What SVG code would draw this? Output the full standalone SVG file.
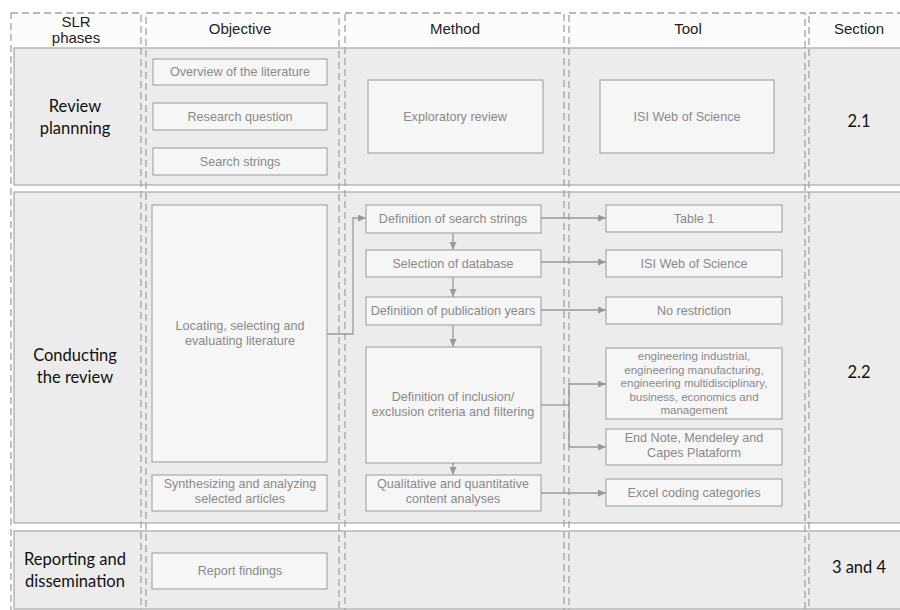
<svg xmlns="http://www.w3.org/2000/svg" width="900" height="610" viewBox="0 0 900 610">
<style>
.band{fill:#ececec;stroke:#a8a8a8;stroke-width:1.2}
.col{fill:none;stroke:#a3a3a3;stroke-width:1.3;stroke-dasharray:7 4}
.box{fill:#f6f6f6;stroke:#a8a8a8;stroke-width:1.2}
.bt{font-family:"Liberation Sans",Arial,sans-serif;font-size:12.6px;fill:#8a8a8a;text-anchor:middle}
.bs{font-family:"Liberation Sans",Arial,sans-serif;font-size:11.5px;fill:#8a8a8a;text-anchor:middle}
.hd{font-family:"Liberation Sans",Arial,sans-serif;font-size:15px;fill:#1e1e1e;text-anchor:middle}
.ph{font-family:Lato,"Open Sans",sans-serif;font-size:16.5px;fill:#111;text-anchor:middle}
.cn{fill:none;stroke:#9a9a9a;stroke-width:1.3}
</style>
<defs>
<marker id="ah" markerUnits="userSpaceOnUse" markerWidth="9" markerHeight="8" refX="8" refY="3.5" orient="auto">
<path d="M0,0 L8,3.5 L0,7 z" fill="#9a9a9a"/>
</marker>
</defs>
<rect x="0" y="0" width="900" height="610" fill="#ffffff"/>
<rect x="11" y="13" width="900" height="35" fill="#fcfcfc"/>
<g id="bands">
<rect class="band" x="14" y="48" width="900" height="137"/>
<rect class="band" x="14" y="192" width="900" height="331"/>
<rect class="band" x="14" y="531" width="900" height="78"/>
</g>
<g id="columns">
<rect class="col" x="11" y="13" width="130" height="610"/>
<rect class="col" x="146" y="13" width="193" height="610"/>
<rect class="col" x="345" y="13" width="219" height="610"/>
<rect class="col" x="569" y="13" width="236" height="610"/>
<rect class="col" x="809" y="13" width="110" height="610"/>
</g>
<g id="headers">
<text class="hd" x="76" y="27">SLR</text>
<text class="hd" x="76" y="43">phases</text>
<text class="hd" x="240" y="34">Objective</text>
<text class="hd" x="455" y="34">Method</text>
<text class="hd" x="688" y="34">Tool</text>
<text class="hd" x="859" y="34">Section</text>
</g>
<g id="phases">
<text class="ph" x="75" y="112">Review</text>
<text class="ph" x="75" y="134">plannning</text>
<text class="ph" x="75" y="361">Conducting</text>
<text class="ph" x="75" y="383">the review</text>
<text class="ph" x="75" y="565">Reporting and</text>
<text class="ph" x="75" y="587">dissemination</text>
<text class="ph" x="859" y="127">2.1</text>
<text class="ph" x="859" y="378">2.2</text>
<text class="ph" x="859" y="573">3 and 4</text>
</g>
<g id="connectors">
<polyline class="cn" points="327,334 353,334 353,218 366,218" marker-end="url(#ah)"/>
<line class="cn" x1="453" y1="233" x2="453" y2="250" marker-end="url(#ah)"/>
<line class="cn" x1="453" y1="277" x2="453" y2="297" marker-end="url(#ah)"/>
<line class="cn" x1="453" y1="325" x2="453" y2="347" marker-end="url(#ah)"/>
<line class="cn" x1="453" y1="463" x2="453" y2="475" marker-end="url(#ah)"/>
<line class="cn" x1="541" y1="218" x2="606" y2="218" marker-end="url(#ah)"/>
<line class="cn" x1="541" y1="262" x2="606" y2="262" marker-end="url(#ah)"/>
<line class="cn" x1="541" y1="310" x2="606" y2="310" marker-end="url(#ah)"/>
<line class="cn" x1="541" y1="405" x2="569" y2="405"/>
<line class="cn" x1="569" y1="384" x2="569" y2="447"/>
<line class="cn" x1="569" y1="384" x2="606" y2="384" marker-end="url(#ah)"/>
<line class="cn" x1="569" y1="447" x2="606" y2="447" marker-end="url(#ah)"/>
<line class="cn" x1="541" y1="493" x2="606" y2="493" marker-end="url(#ah)"/>
</g>
<g id="obj-overview"><rect class="box" x="153" y="59" width="174" height="26"/><text class="bt" x="240" y="76">Overview of the literature</text></g>
<g id="obj-question"><rect class="box" x="153" y="103" width="174" height="27"/><text class="bt" x="240" y="121">Research question</text></g>
<g id="obj-strings"><rect class="box" x="153" y="148" width="174" height="27"/><text class="bt" x="240" y="166">Search strings</text></g>
<g id="obj-locating"><rect class="box" x="152" y="205" width="175" height="257"/><text class="bt" x="240" y="330">Locating, selecting and</text><text class="bt" x="240" y="345">evaluating literature</text></g>
<g id="obj-synth"><rect class="box" x="152" y="475" width="175" height="36"/><text class="bt" x="240" y="488">Synthesizing and analyzing</text><text class="bt" x="240" y="503">selected articles</text></g>
<g id="obj-report"><rect class="box" x="152" y="553" width="175" height="36"/><text class="bt" x="240" y="575">Report findings</text></g>
<g id="met-exploratory"><rect class="box" x="368" y="80" width="175" height="73"/><text class="bt" x="455" y="121">Exploratory review</text></g>
<g id="met-search"><rect class="box" x="366" y="205" width="175" height="28"/><text class="bt" x="453" y="223">Definition of search strings</text></g>
<g id="met-database"><rect class="box" x="366" y="250" width="175" height="27"/><text class="bt" x="453" y="268">Selection of database</text></g>
<g id="met-years"><rect class="box" x="366" y="297" width="175" height="28"/><text class="bt" x="453" y="315">Definition of publication years</text></g>
<g id="met-criteria"><rect class="box" x="366" y="347" width="175" height="116"/><text class="bt" x="453" y="401">Definition of inclusion/</text><text class="bt" x="453" y="416">exclusion criteria and filtering</text></g>
<g id="met-content"><rect class="box" x="366" y="475" width="175" height="36"/><text class="bt" x="453" y="488">Qualitative and quantitative</text><text class="bt" x="453" y="503">content analyses</text></g>
<g id="tool-isi-top"><rect class="box" x="600" y="80" width="174" height="73"/><text class="bt" x="687" y="121">ISI Web of Science</text></g>
<g id="tool-table"><rect class="box" x="606" y="205" width="176" height="27"/><text class="bt" x="694" y="223">Table 1</text></g>
<g id="tool-isi"><rect class="box" x="606" y="250" width="176" height="27"/><text class="bt" x="694" y="268">ISI Web of Science</text></g>
<g id="tool-norestr"><rect class="box" x="606" y="297" width="176" height="27"/><text class="bt" x="694" y="315">No restriction</text></g>
<g id="tool-categories"><rect class="box" x="606" y="348" width="176" height="71"/><text class="bs" x="694" y="360">engineering industrial,</text><text class="bs" x="694" y="373.5">engineering manufacturing,</text><text class="bs" x="694" y="387">engineering multidisciplinary,</text><text class="bs" x="694" y="400.5">business, economics and</text><text class="bs" x="694" y="414">management</text></g>
<g id="tool-endnote"><rect class="box" x="606" y="429" width="176" height="36"/><text class="bt" x="694" y="442">End Note, Mendeley and</text><text class="bt" x="694" y="457">Capes Plataform</text></g>
<g id="tool-excel"><rect class="box" x="606" y="479" width="176" height="27"/><text class="bt" x="694" y="497">Excel coding categories</text></g>
</svg>
